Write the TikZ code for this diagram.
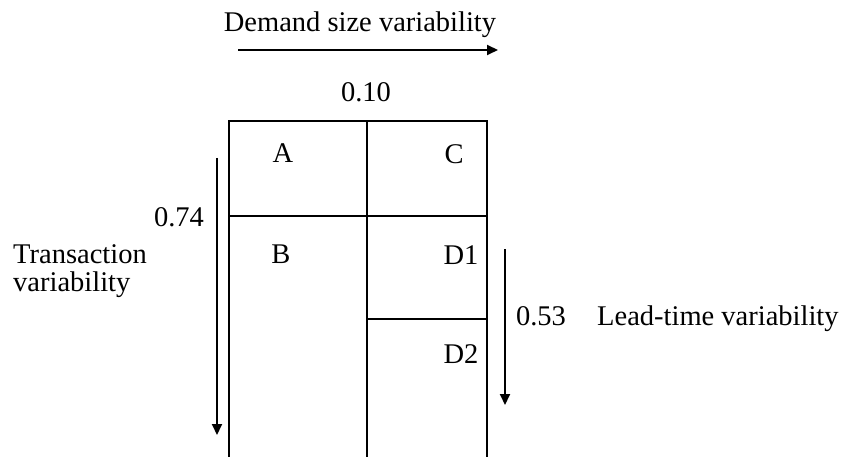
\documentclass[tikz,border=0pt]{standalone}
\usepackage{fontspec}
\setmainfont{Liberation Serif}
\usetikzlibrary{arrows.meta}
\begin{document}
\begin{tikzpicture}[x=1pt,y=-1pt,
  grid/.style={line width=2.6pt},
  axis/.style={line width=2pt,-{Triangle[width=10pt,length=11pt]}},
  lbl/.style={inner sep=0pt,anchor=base,font=\fontsize{28.5}{34}\selectfont}]
\useasboundingbox (0,0) rectangle (846,457);

% classification grid (open at the bottom)
\coordinate (tl) at (229,121);
\coordinate (tm) at (367,121);
\coordinate (tr) at (487,121);
\coordinate (bl) at (229,460);
\coordinate (bm) at (367,460);
\coordinate (br) at (487,460);
\coordinate (ml) at (229,216);
\coordinate (mr) at (487,216);
\coordinate (dm) at (367,319);
\coordinate (dr) at (487,319);
\draw[grid] (bl) -- (tl) -- (tr) -- (br);
\draw[grid] (tm) -- (bm);
\draw[grid] (ml) -- (mr);
\draw[grid] (dm) -- (dr);

% cell labels
\node[lbl] (A) at (283,163) {A};
\node[lbl] (B) at (281,263) {B};
\node[lbl] (C) at (454,164) {C};
\node[lbl] (D1) at (461,265) {D1};
\node[lbl] (D2) at (461,363) {D2};

% cut-off values
\node[lbl] (v10) at (366,102) {0.10};
\node[lbl] (v74) at (179,227) {0.74};
\node[lbl] (v53) at (541,325) {0.53};

% axis captions
\node[lbl] (dsv) at (360,32) {Demand size variability};
\node[lbl,anchor=base west] (ltv) at (597,325) {Lead-time variability};
\node[lbl,anchor=base west,align=left] (tv1) at (13,263) {Transaction};
\node[lbl,anchor=base west,align=left] (tv2) at (13,291) {variability};

% direction arrows
\coordinate (ha) at (238,50);
\coordinate (hb) at (498,50);
\coordinate (la) at (217,158);
\coordinate (lb) at (217,435);
\coordinate (ra) at (505,249);
\coordinate (rb) at (505,405);
\draw[axis] (ha) -- (hb);
\draw[axis] (la) -- (lb);
\draw[axis] (ra) -- (rb);
\end{tikzpicture}
\end{document}
